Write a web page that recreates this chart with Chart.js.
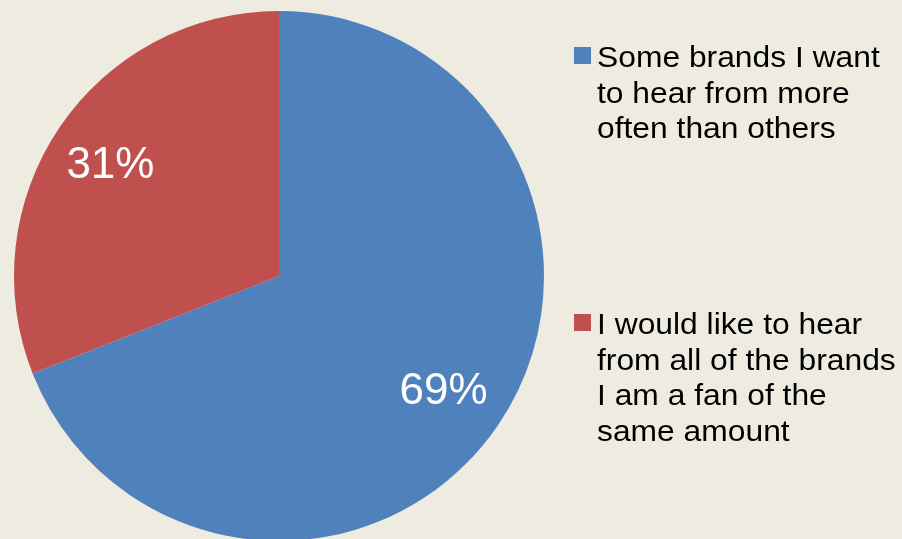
<!DOCTYPE html>
<html>
<head>
<meta charset="utf-8">
<script src="https://cdn.jsdelivr.net/npm/chart.js@4/dist/chart.umd.min.js"></script>
<style>
  html, body { margin: 0; padding: 0; background: #EEECE1; overflow: hidden; }
  #clip { width: 902px; height: 539px; overflow: hidden; position: relative; }
  #wrap { width: 902px; height: 560px; position: absolute; left: 0; top: 0; }
</style>
</head>
<body>
<div id="clip"><div id="wrap"><canvas id="c"></canvas></div></div>
<script>
// ---- data ----
const categories = [
  ["Some brands I want", "to hear from more", "often than others"],
  ["I would like to hear", "from all of the brands", "I am a fan of the", "same amount"]
];
const values = [69, 31];
const valueLabels = ["69%", "31%"];
const colors = ["#4F81BD", "#C0504D"];

const FONT = "'Liberation Sans', Arial, sans-serif";

const pctLabels = {
  id: 'pctLabels',
  afterDatasetsDraw(chart) {
    const ctx = chart.ctx;
    const meta = chart.getDatasetMeta(0);
    ctx.save();
    ctx.fillStyle = '#FFFFFF';
    ctx.font = '44px ' + FONT;
    ctx.textAlign = 'center';
    ctx.textBaseline = 'middle';
    meta.data.forEach((arc, i) => {
      const p = arc.getProps(['x', 'y', 'startAngle', 'endAngle', 'outerRadius'], true);
      const mid = (p.startAngle + p.endAngle) / 2;
      const r = p.outerRadius * 0.76;
      ctx.fillText(valueLabels[i], p.x + Math.cos(mid) * r - 2, p.y + Math.sin(mid) * r + 3);
    });
    ctx.restore();
  }
};

const sideLegend = {
  id: 'sideLegend',
  afterDraw(chart) {
    const ctx = chart.ctx;
    ctx.save();
    ctx.font = '30px ' + FONT;
    ctx.textAlign = 'left';
    ctx.textBaseline = 'alphabetic';
    const starts = [67, 334];
    const lh = 35.5;
    const tx = 597;
    categories.forEach((lines, i) => {
      const base = starts[i];
      ctx.fillStyle = colors[i];
      ctx.fillRect(574, base - 20, 17, 17);
      ctx.fillStyle = '#000000';
      lines.forEach((ln, j) => {
        ctx.save();
        ctx.translate(tx, base + j * lh);
        ctx.scale(1.06, 1);
        ctx.fillText(ln, 0, 0);
        ctx.restore();
      });
    });
    ctx.restore();
  }
};

new Chart(document.getElementById('c'), {
  type: 'pie',
  data: {
    labels: categories.map(l => l.join(' ')),
    datasets: [{
      data: values,
      backgroundColor: colors,
      borderWidth: 0
    }]
  },
  options: {
    responsive: true,
    maintainAspectRatio: false,
    animation: false,
    layout: { padding: { left: 14, right: 358, top: 11, bottom: 19 } },
    plugins: {
      legend: { display: false },
      tooltip: { enabled: false }
    }
  },
  plugins: [pctLabels, sideLegend]
});
</script>
</body>
</html>
